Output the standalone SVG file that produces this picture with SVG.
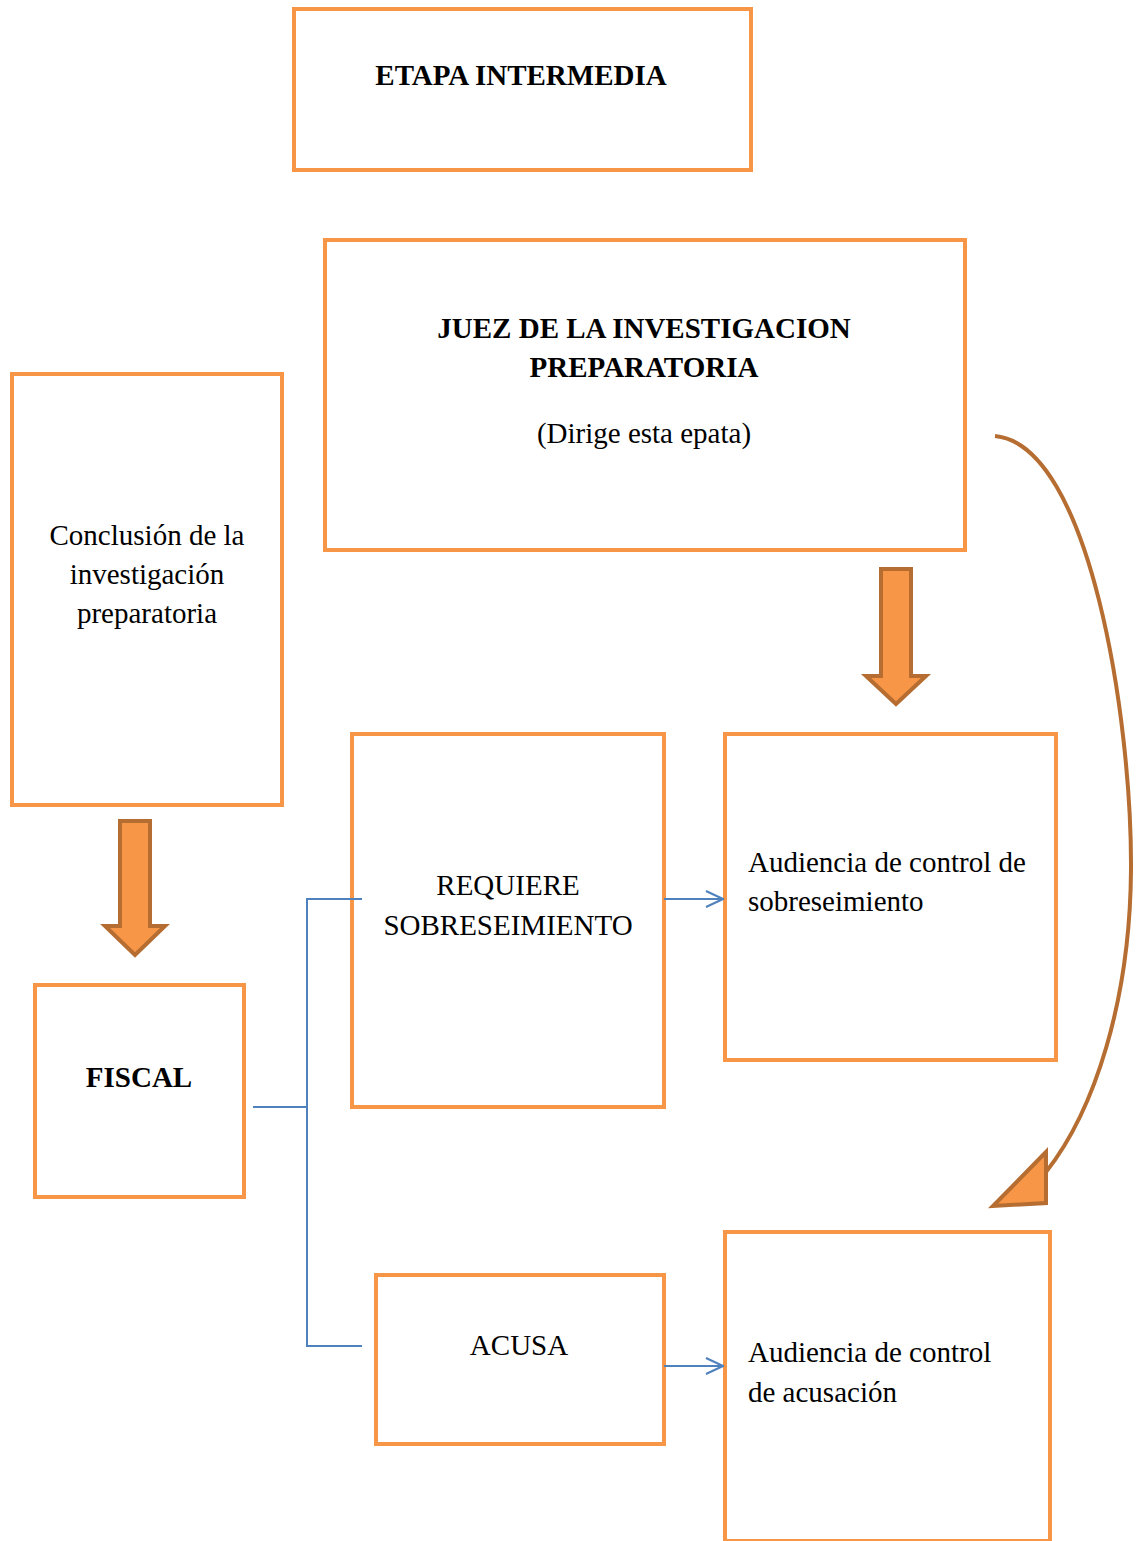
<svg xmlns="http://www.w3.org/2000/svg" width="1138" height="1541" viewBox="0 0 1138 1541">
<style>
.box{fill:#fff;stroke:#F79646;stroke-width:4}
.t{font-family:"Liberation Serif","Times New Roman",serif;font-size:29px;fill:#000}
.b{font-weight:bold}
.c{text-anchor:middle}
.blue{fill:none;stroke:#4F81BD;stroke-width:2}
.fat{fill:#F79646;stroke:#B66D31;stroke-width:4;stroke-linejoin:miter}
</style>
<defs>
<marker id="o2" viewBox="0 0 20 20" refX="19" refY="10" markerWidth="20" markerHeight="20" markerUnits="userSpaceOnUse" orient="auto">
<path d="M2,2 L19,10 L2,18" fill="none" stroke="#4F81BD" stroke-width="2"/>
</marker>
</defs>
<g id="etapa"><rect class="box" x="294" y="9" width="457" height="161"/><text class="t b c" x="521" y="85">ETAPA INTERMEDIA</text></g>
<g id="juez"><rect class="box" x="325" y="240" width="640" height="310"/><text class="t b c" x="644" y="338">JUEZ DE LA INVESTIGACION</text><text class="t b c" x="644" y="377">PREPARATORIA</text><text class="t c" x="644" y="443">(Dirige esta epata)</text></g>
<g id="conclusion"><rect class="box" x="12" y="374" width="270" height="431"/><text class="t c" x="147" y="545">Conclusión de la</text><text class="t c" x="147" y="584">investigación</text><text class="t c" x="147" y="623">preparatoria</text></g>
<g id="fiscal"><rect class="box" x="35" y="985" width="209" height="212"/><text class="t b c" x="139" y="1087">FISCAL</text></g>
<g id="requiere"><rect class="box" x="352" y="734" width="312" height="373"/><text class="t c" x="508" y="895">REQUIERE</text><text class="t c" x="508" y="935">SOBRESEIMIENTO</text></g>
<g id="aud-sob"><rect class="box" x="725" y="734" width="331" height="326"/><text class="t" x="748" y="872">Audiencia de control de</text><text class="t" x="748" y="911">sobreseimiento</text></g>
<g id="acusa"><rect class="box" x="376" y="1275" width="288" height="169"/><text class="t c" x="519" y="1355">ACUSA</text></g>
<g id="aud-acu"><rect class="box" x="725" y="1232" width="325" height="309"/><text class="t" x="748" y="1362">Audiencia de control</text><text class="t" x="748" y="1402">de acusación</text></g>
<g id="connectors">
<path class="blue" d="M253,1107 H307 M362,899 H307 V1346 H362"/>
<path class="blue" d="M664,899 H723" marker-end="url(#o2)"/>
<path class="blue" d="M664,1366 H723" marker-end="url(#o2)"/>
<path class="fat" d="M881,569 H911 V676 H926 L896,704 L866,676 H881 Z"/>
<path class="fat" d="M120,821 H150 V926 H165 L135,955 L105,926 H120 Z"/>
<path d="M995,436 C1090,445 1132,720 1131,870 C1130,1000 1095,1110 1046,1172" fill="none" stroke="#B66D31" stroke-width="4"/>
<path class="fat" d="M1046,1152 L1046,1203 L993,1206 Z" stroke-linejoin="round"/>
</g>
</svg>
